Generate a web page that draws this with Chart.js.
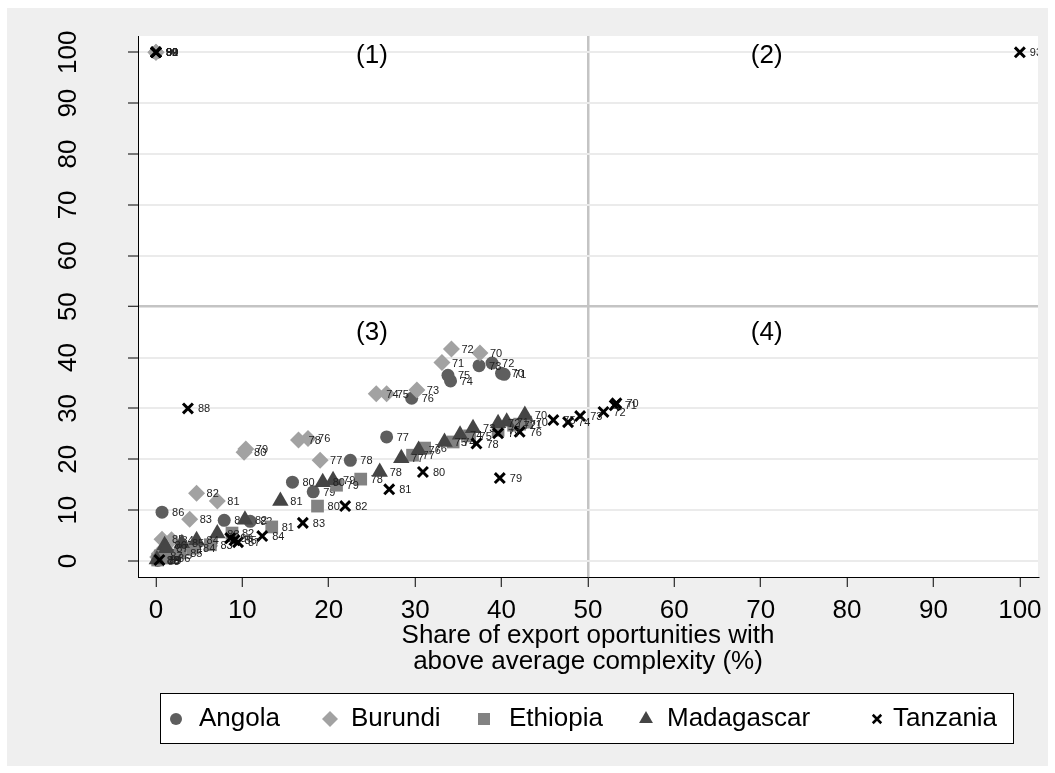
<!DOCTYPE html>
<html>
<head>
<meta charset="utf-8">
<script src="https://cdn.jsdelivr.net/npm/chart.js@4.4.1/dist/chart.umd.min.js"></script>
<style>
html, body { margin: 0; padding: 0; background: #fff; }
</style>
</head>
<body>
<canvas id="chart" width="1055" height="773"></canvas>
<script>
// valores (x = % oportunidades, y = % complexidade)
var paises = ["Angola", "Burundi", "Ethiopia", "Madagascar", "Tanzania"];

var anosAngola = [70,71,72,73,74,75,76,77,78,79,80,81,82,83,84,85,86,87,88,89,90];
var xAngola = [40.0,40.3,38.9,37.4,34.1,33.8,29.6,26.7,22.5,18.2,15.8,7.9,10.9,4.6,2.8,1.6,0.7,0.5,0.2,0,0];
var yAngola = [36.9,36.7,38.9,38.4,35.4,36.5,32.0,24.4,19.8,13.6,15.5,8.0,7.8,3.3,2.2,1.2,9.6,0.6,0.1,100,100];

var anosBurundi = [70,71,72,73,74,75,76,77,78,79,80,81,82,83,84,85,86,87,88,89,90];
var xBurundi = [37.5,33.1,34.2,30.2,25.5,26.7,17.6,19.0,16.5,10.4,10.2,7.1,4.7,3.9,1.8,0.7,1.0,0.4,0.2,0,0];
var yBurundi = [40.9,39.0,41.7,33.6,32.9,32.9,24.1,19.8,23.8,22.0,21.4,11.8,13.3,8.2,4.2,4.3,2.5,1.5,0.8,100,100];

var anosEthiopia = [70,71,72,73,74,75,76,77,78,79,80,81,82,83,84,85,86,87,88];
var xEthiopia = [42.8,42.1,41.4,39.6,34.4,36.3,31.1,29.7,23.7,20.9,18.7,13.4,8.8,6.3,4.3,2.8,1.4,0.5,0.2];
var yEthiopia = [27.3,26.9,26.7,25.7,23.4,24.6,22.2,20.8,16.1,14.9,10.8,6.7,5.5,3.2,2.5,1.6,0.6,1.0,0.2];

var anosMadagascar = [70,71,72,73,74,75,76,77,78,79,80,81,82,83,84,85,86,87,88];
var xMadagascar = [42.7,40.6,39.6,36.7,35.2,33.4,30.4,28.4,25.9,20.5,19.3,14.4,10.3,7.1,4.7,3.0,1.0,1.2,0.1];
var yMadagascar = [28.7,27.4,27.1,26.1,24.8,23.4,21.8,20.2,17.5,15.9,15.5,11.8,8.1,5.4,4.1,3.5,3.1,2.5,0.3];

var anosTanzania = [70,71,72,73,74,75,76,77,78,79,80,81,82,83,84,85,86,87,88,89,90,91,92,93];
var xTanzania = [53.3,53.1,51.8,49.1,47.7,46.0,42.1,39.6,37.1,39.8,30.9,27.0,21.9,17.0,12.3,9.1,8.6,9.5,3.7,0.4,0,0,0,100];
var yTanzania = [31.0,30.6,29.3,28.5,27.3,27.7,25.4,25.1,23.1,16.3,17.5,14.1,10.8,7.5,4.9,4.1,4.5,3.7,30.0,0.2,100,100,100,100];

var xTicks = [0,10,20,30,40,50,60,70,80,90,100];
var yTicks = [0,10,20,30,40,50,60,70,80,90,100];

var quadTexto = ["(1)", "(2)", "(3)", "(4)"];
var quadX = [25, 70.7, 25, 70.7];
var quadY = [99.4, 99.4, 44.8, 44.8];

var tituloX = ["Share of export oportunities with", "above average complexity (%)"];

var fonte = "'Liberation Sans', Arial, Helvetica, sans-serif";
var cores = ["#5e5e5e", "#a2a2a2", "#828282", "#454545", "#000000"];
var estilos = ["circle", "rectRot", "rect", "triangle", "crossRot"];
var raios = [6.5, 8.5, 9, 9.5, 7];

function serie(k, xs, ys, anos) {
    var pts = [];
    for (var i = 0; i < xs.length; i++) pts.push({x: xs[i], y: ys[i]});
    return {
        label: paises[k],
        data: pts,
        anos: anos,
        pointStyle: estilos[k],
        pointRadius: raios[k],
        pointHoverRadius: raios[k],
        backgroundColor: cores[k],
        borderColor: cores[k],
        borderWidth: k == 4 ? 3 : 0,
        showLine: false,
        order: 5 - k
    };
}

// fundo cinza e area branca do grafico
var fundo = {
    id: 'fundo',
    beforeDraw: function(chart) {
        var c = chart.ctx, a = chart.chartArea;
        c.save();
        c.fillStyle = '#fff';
        c.fillRect(0, 0, chart.width, chart.height);
        c.fillStyle = '#efefef';
        c.fillRect(7, 8, 1041, 758);
        c.fillStyle = '#fff';
        c.fillRect(a.left, a.top, a.right - a.left, a.bottom - a.top);
        c.restore();
    }
};

// rotulos dos anos ao lado de cada ponto
var rotulos = {
    id: 'rotulos',
    afterDatasetDraw: function(chart, args) {
        var c = chart.ctx, a = chart.chartArea;
        var anos = chart.data.datasets[args.index].anos;
        c.save();
        c.beginPath();
        c.rect(a.left, a.top, a.right - a.left, a.bottom - a.top);
        c.clip();
        c.font = '11px ' + fonte;
        c.fillStyle = '#222';
        c.textAlign = 'left';
        c.textBaseline = 'middle';
        args.meta.data.forEach(function(p, i) {
            c.fillText(String(anos[i]), p.x + 10, p.y + 1);
        });
        c.restore();
    }
};

// textos: ticks, quadrantes, titulo do eixo, legenda
var textos = {
    id: 'textos',
    afterDraw: function(chart) {
        var c = chart.ctx;
        var sx = chart.scales.x, sy = chart.scales.y;
        c.save();
        c.fillStyle = '#000';
        c.font = '26px ' + fonte;
        c.textAlign = 'center';
        c.textBaseline = 'alphabetic';
        xTicks.forEach(function(v) {
            c.fillText(String(v), sx.getPixelForValue(v), 618);
        });
        yTicks.forEach(function(v) {
            c.save();
            c.translate(76, sy.getPixelForValue(v));
            c.rotate(-Math.PI / 2);
            c.fillText(String(v), 0, 0);
            c.restore();
        });
        c.textBaseline = 'middle';
        for (var i = 0; i < quadTexto.length; i++) {
            c.fillText(quadTexto[i], sx.getPixelForValue(quadX[i]), sy.getPixelForValue(quadY[i]));
        }
        c.textBaseline = 'alphabetic';
        var meio = (chart.chartArea.left + chart.chartArea.right) / 2;
        c.fillText(tituloX[0], meio, 643);
        c.fillText(tituloX[1], meio, 669);

        // legenda
        c.fillStyle = '#fff';
        c.fillRect(160, 693, 853, 50);
        c.strokeStyle = '#000';
        c.lineWidth = 1;
        c.strokeRect(160.5, 693.5, 853, 50);
        var mx = [176, 330, 484, 646, 877];
        var tx = [199, 351, 509, 667, 893];
        var rl = [6, 8, 8.5, 8, 6];
        c.textAlign = 'left';
        c.textBaseline = 'middle';
        c.font = '26px ' + fonte;
        for (var k = 0; k < paises.length; k++) {
            c.fillStyle = cores[k];
            c.strokeStyle = cores[k];
            c.lineWidth = 2.5;
            Chart.helpers.drawPoint(c, {pointStyle: estilos[k], radius: rl[k], rotation: 0, borderWidth: k == 4 ? 2.5 : 0}, mx[k], 719);
            c.fillStyle = '#000';
            c.fillText(paises[k], tx[k], 719);
        }
        c.restore();
    }
};

var ctx = document.getElementById('chart');
var chart = new Chart(ctx, {
    type: 'scatter',
    data: {
        datasets: [
            serie(0, xAngola, yAngola, anosAngola),
            serie(1, xBurundi, yBurundi, anosBurundi),
            serie(2, xEthiopia, yEthiopia, anosEthiopia),
            serie(3, xMadagascar, yMadagascar, anosMadagascar),
            serie(4, xTanzania, yTanzania, anosTanzania)
        ]
    },
    options: {
        responsive: false,
        devicePixelRatio: 1,
        animation: false,
        layout: { padding: { left: 0, top: 36, right: 17, bottom: 0 } },
        plugins: { legend: { display: false }, tooltip: { enabled: false } },
        scales: {
            x: {
                type: 'linear',
                min: -2.08,
                max: 102.1,
                afterBuildTicks: function(s) { s.ticks = xTicks.map(function(v) { return {value: v}; }); },
                afterFit: function(s) { s.height = 196; },
                ticks: { display: false },
                grid: {
                    color: function(c) { return c.tick && c.tick.value === 50 ? '#c4c4c4' : 'rgba(0,0,0,0)'; },
                    lineWidth: 2.5,
                    tickColor: '#000',
                    tickWidth: 1,
                    tickLength: 10
                },
                border: { color: '#000', width: 1 }
            },
            y: {
                type: 'linear',
                min: -3.14,
                max: 103.2,
                afterBuildTicks: function(s) { s.ticks = yTicks.map(function(v) { return {value: v}; }); },
                afterFit: function(s) { s.width = 138; },
                ticks: { display: false },
                grid: {
                    color: function(c) { return c.tick && c.tick.value === 50 ? '#c4c4c4' : '#ebebeb'; },
                    lineWidth: function(c) { return c.tick && c.tick.value === 50 ? 2.5 : 2; },
                    tickColor: '#000',
                    tickWidth: 1,
                    tickLength: 10
                },
                border: { color: '#000', width: 1 }
            }
        }
    },
    plugins: [fundo, rotulos, textos]
});
</script>
</body>
</html>
